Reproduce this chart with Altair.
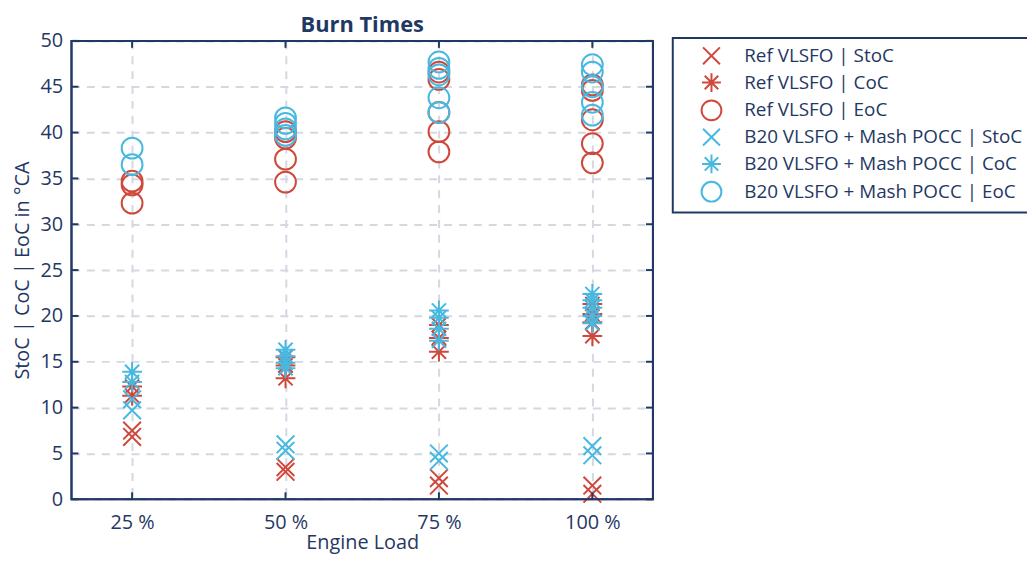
import altair as alt
import pandas as pd

NAVY = "#1f3864"
RED = "#d0483b"
BLUE = "#47b9e1"
GRID = "#d3d8e1"
FONT = "Open Sans"
FS = 20

loads = ["25 %", "50 %", "75 %", "100 %"]
series_names = [
    "Ref VLSFO | StoC",
    "Ref VLSFO | CoC",
    "Ref VLSFO | EoC",
    "B20 VLSFO + Mash POCC | StoC",
    "B20 VLSFO + Mash POCC | CoC",
    "B20 VLSFO + Mash POCC | EoC",
]
series_colors = [RED, RED, RED, BLUE, BLUE, BLUE]

# values per load (25 %, 50 %, 75 %, 100 %)
ref_stoc = [[7.5, 6.8], [3.5, 3.0], [2.3, 1.5], [1.5, 0.6]]
ref_coc = [[12.3, 11.3], [15.5, 14.6, 13.2], [19.0, 17.6, 16.1], [21.3, 20.2, 19.3, 17.8]]
ref_eoc = [[34.7, 34.3, 32.3], [40.1, 39.4, 37.1, 34.6], [46.6, 45.8, 42.2, 40.1, 37.9],
           [45.2, 44.6, 41.4, 38.8, 36.7]]
b20_stoc = [[10.9, 9.7], [6.0, 5.3], [5.0, 4.2], [5.8, 4.8]]
b20_coc = [[13.9, 12.8], [16.3, 15.6, 14.9, 14.3], [20.6, 19.8, 18.6, 17.3],
           [22.4, 21.7, 20.9, 20.0, 19.2]]
b20_eoc = [[38.3, 36.5], [41.6, 41.0, 40.4, 39.7], [47.7, 47.0, 46.3, 43.8, 42.2],
           [47.4, 46.6, 45.0, 43.3, 41.9]]

y_ticks = [0, 5, 10, 15, 20, 25, 30, 35, 40, 45, 50]

X_PATH = "M-0.85,-0.85L0.85,0.85M-0.85,0.85L0.85,-0.85"
AST_PATH = ("M0,-0.95L0,0.95M-0.95,0L0.95,0"
            "M-0.68,-0.68L0.68,0.68M-0.68,0.68L0.68,-0.68")
series_shapes = [X_PATH, AST_PATH, "circle", X_PATH, AST_PATH, "circle"]

rows = []
for name, vals in zip(series_names,
                      [ref_stoc, ref_coc, ref_eoc, b20_stoc, b20_coc, b20_eoc]):
    for load, vs in zip(loads, vals):
        for v in vs:
            rows.append({"series": name, "load": load, "value": v})
df = pd.DataFrame(rows)
ticks_df = pd.DataFrame({"value": y_ticks})
loads_df = pd.DataFrame({"load": loads})
frame_df = pd.DataFrame({"frame": [0]})

W, H = 586, 462

x_scale = alt.Scale(type="point", domain=loads, padding=0.395)
y_scale = alt.Scale(domain=[0, 50], nice=False, zero=False)

x_axis = alt.Axis(title="Engine Load", labelAngle=0, ticks=False, domain=False,
                  grid=True, gridColor=GRID, gridDash=[8, 7], gridWidth=2,
                  labelPadding=13, titlePadding=1)
y_axis = alt.Axis(title="StoC | CoC | EoC in °CA", values=y_ticks, ticks=False,
                  domain=False, grid=True, gridColor=GRID, gridDash=[8, 7],
                  gridWidth=2, labelPadding=9, titlePadding=7)

points = alt.Chart(df).mark_point(filled=False, strokeWidth=2, size=440, opacity=1).encode(
    x=alt.X("load:N", scale=x_scale, sort=loads, axis=x_axis),
    y=alt.Y("value:Q", scale=y_scale, axis=y_axis),
    color=alt.Color("series:N", scale=alt.Scale(domain=series_names, range=series_colors),
                    sort=series_names,
                    legend=alt.Legend(title=None, orient="none", legendX=606, legendY=-3,
                                      strokeColor=NAVY, padding=7, symbolOffset=21,
                                      labelOffset=22, symbolSize=400, symbolStrokeWidth=2,
                                      labelFontSize=19, labelColor=NAVY, labelFont=FONT,
                                      labelLimit=500, rowPadding=0, fillColor="white")),
    shape=alt.Shape("series:N", scale=alt.Scale(domain=series_names, range=series_shapes),
                    sort=series_names),
)

left_ticks = alt.Chart(ticks_df).mark_rule(color=NAVY, strokeWidth=2).encode(
    y=alt.Y("value:Q", scale=y_scale), x=alt.value(0), x2=alt.value(7))
right_ticks = alt.Chart(ticks_df).mark_rule(color=NAVY, strokeWidth=2).encode(
    y=alt.Y("value:Q", scale=y_scale), x=alt.value(W - 7), x2=alt.value(W))
top_ticks = alt.Chart(loads_df).mark_rule(color=NAVY, strokeWidth=2).encode(
    x=alt.X("load:N", scale=x_scale, sort=loads), y=alt.value(0), y2=alt.value(7))
bottom_ticks = alt.Chart(loads_df).mark_rule(color=NAVY, strokeWidth=2).encode(
    x=alt.X("load:N", scale=x_scale, sort=loads), y=alt.value(H - 7), y2=alt.value(H))
frame = alt.Chart(frame_df).mark_rect(fillOpacity=0, stroke=NAVY, strokeWidth=2).encode(
    x=alt.value(0), x2=alt.value(W), y=alt.value(0), y2=alt.value(H))

chart = alt.layer(points, left_ticks, right_ticks, top_ticks, bottom_ticks, frame).properties(
    width=W, height=H,
    title=alt.Title("Burn Times", fontSize=22, fontWeight="bold", color=NAVY, font=FONT,
                    anchor="middle", offset=0, dy=6),
    autosize=alt.AutoSizeParams(type="none"),
    padding={"left": 64, "top": 31, "right": 377, "bottom": 54},
).configure_view(
    stroke=NAVY, strokeWidth=2
).configure_axis(
    labelFont=FONT, labelFontSize=FS, labelColor=NAVY,
    titleFont=FONT, titleFontSize=FS, titleColor=NAVY, titleFontWeight="normal",
).configure_legend(
    strokeWidth=2
)

chart.save("out.html", embed_options={"renderer": "svg", "actions": False})
